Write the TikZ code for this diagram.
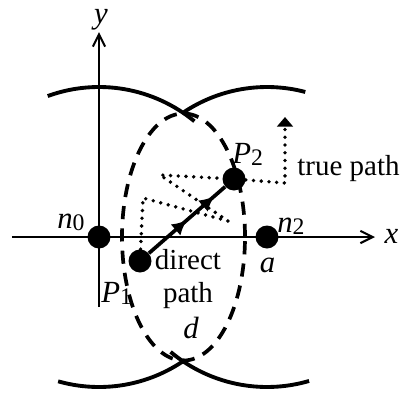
\documentclass[tikz,border=0pt]{standalone}
\usepackage{fontspec}
\setmainfont{Liberation Serif}
\usetikzlibrary{arrows.meta,decorations.markings}
\newcommand{\lsub}[1]{\raisebox{-1.5pt}{\fontsize{13.5}{13.5}\selectfont #1}}

\begin{document}
\begin{tikzpicture}
	% styles
	\tikzstyle{every node} += [font=\fontsize{16.5}{18.8}\selectfont,inner sep=0pt]
	\tikzstyle{mlabel} = [font=\fontsize{17.5}{20}\selectfont\itshape]
	\tikzstyle{station} = [circle,fill=black,minimum size=0.46cm]
	\tikzstyle{axis} = [line width=1.2pt,-{Straight Barb[length=7pt,width=7pt]}]
	\tikzstyle{coverage} = [line width=2.2pt]
	\tikzstyle{zone} = [line width=2.1pt,dash pattern=on 7.5pt off 5.2pt]
	\tikzstyle{truepath} = [line width=2.2pt,line cap=round,dash pattern=on 0pt off 4.4pt]
	\tikzstyle{directpath} = [line width=2.1pt,postaction={decorate},
		decoration={markings,
			mark=at position 0.5 with {\arrow{Latex[length=8.5pt,width=8.5pt]}},
			mark=at position 0.86 with {\arrow{Latex[length=8.5pt,width=8.5pt]}}}]
	
	% bounding box
	\useasboundingbox (-1.98,-3.16) rectangle (6.1,4.74);
	
	% axes
	\coordinate (xl) at (-1.74,0);
	\coordinate (xr) at (5.52,0);
	\coordinate (yb) at (0,-1.4);
	\coordinate (yt) at (0,4.1);
	\draw[axis] (xl) -- (xr);
	\draw[axis] (yb) -- (yt);
	\node[mlabel,anchor=base] (ylab) at (0.04,4.28) {y};
	\node[mlabel,anchor=base] (xlab) at (5.85,-0.12) {x};
	
	% stations and points
	\node[station] (n0) at (0,0) {};
	\node[station] (n2) at (3.36,0) {};
	\node[station] (p1) at (0.82,-0.48) {};
	\node[station] (p2) at (2.70,1.16) {};
	
	% coverage of the two stations
	\draw[coverage] (n0.center) ++(110:3) arc[start angle=110,end angle=50.5,radius=3];
	\draw[coverage] (n0.center) ++(-105.8:3) arc[start angle=-105.8,end angle=-55,radius=3];
	\draw[coverage] (n2.center) ++(124.3:3) arc[start angle=124.3,end angle=75.2,radius=3];
	\draw[coverage] (n2.center) ++(-130:3) arc[start angle=-130,end angle=-73.7,radius=3];
	
	% common zone
	\draw[zone] (1.69,0) ellipse [x radius=1.23,y radius=2.47];
	
	% true path
	\coordinate (t1) at (0.88,0.78);
	\coordinate (t2) at (2.58,0.32);
	\coordinate (t3) at (1.22,1.24);
	\coordinate (t4) at (3.72,1.08);
	\coordinate (t5) at (3.72,2.4);
	\draw[truepath] (p1) -- (t1) -- (t2) -- (t3) -- (p2);
	\draw[truepath,-{Triangle[length=5.5pt,width=9pt]}] (p2) -- (t4) -- (t5);
	
	% direct path
	\draw[directpath] (p1) -- (p2);
	
	% labels
	\node[mlabel,anchor=base west] (n0lab) at (-0.84,0.18) {n\lsub{\upshape 0}};
	\node[mlabel,anchor=base west] (n2lab) at (3.56,0.1) {n\lsub{\upshape 2}};
	\node[mlabel,anchor=base] (alab) at (3.37,-0.7) {a};
	\node[mlabel,anchor=base west] (p1lab) at (0.04,-1.3) {P\lsub{\upshape 1}};
	\node[mlabel,anchor=base west] (p2lab) at (2.66,1.48) {P\lsub{\upshape 2}};
	\node[mlabel,anchor=base] (dlab) at (1.84,-2.02) {d};
	\node[anchor=base] (truelab) at (4.99,1.24) {true path};
	\node[align=center,anchor=north] (directlab) at (1.78,-0.24) {direct\\path};
\end{tikzpicture}
\end{document}
